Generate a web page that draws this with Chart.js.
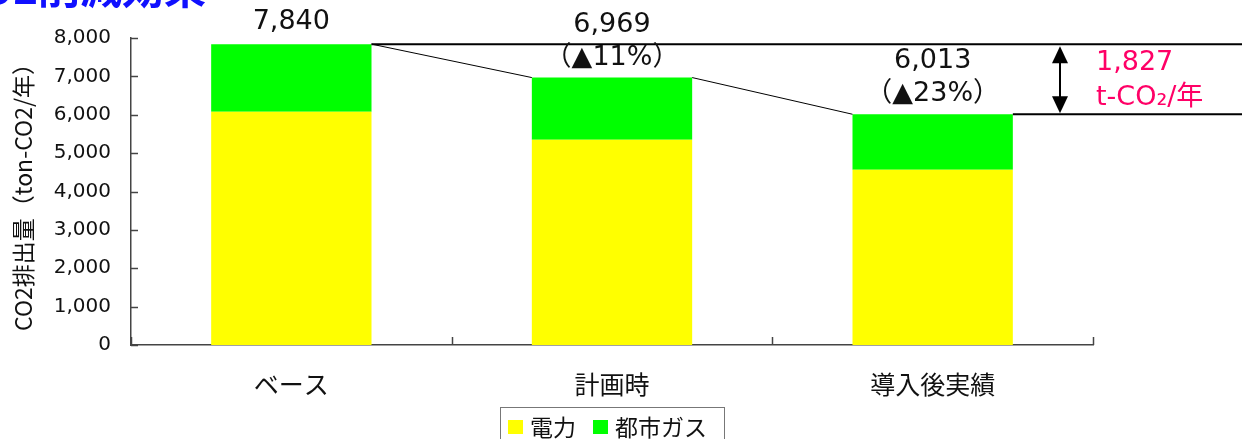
<!DOCTYPE html>
<html>
<head>
<meta charset="utf-8">
<script src="https://cdn.jsdelivr.net/npm/chart.js@4/dist/chart.umd.min.js"></script>
<style>
  html, body { margin: 0; padding: 0; background: #fff; }
  #wrap { width: 1242px; height: 439px; }
</style>
</head>
<body>
<div id="wrap"><canvas id="co2Chart"></canvas></div>
<script>
var categories = ['ベース', '計画時', '導入後実績'];
var denryoku = [6080, 5350, 4570];   // 電力
var toshiGas = [1760, 1619, 1443];   // 都市ガス
var seriesNames = ['電力', '都市ガス'];
var yTicks = [0, 1000, 2000, 3000, 4000, 5000, 6000, 7000, 8000];

var totals = denryoku.map(function (v, i) { return v + toshiGas[i]; });
var fmt = function (v) { return v.toLocaleString('en-US'); };

var numFont = '"DejaVu Sans", "Noto Sans CJK JP", sans-serif';
var jpFont = '"Noto Sans CJK JP", sans-serif';
var axisColor = '#444';

// ticks pointing into the plot, annotations, title and legend box
var extras = {
  id: 'extras',
  afterDraw: function (chart) {
    var ctx = chart.ctx;
    var x = chart.scales.x, y = chart.scales.y;
    var area = chart.chartArea;
    var top = chart.getDatasetMeta(1).data;

    ctx.save();
    // inner tick marks
    ctx.strokeStyle = axisColor;
    ctx.lineWidth = 1.5;
    yTicks.forEach(function (t) {
      var py = Math.round(y.getPixelForValue(t)) + 0.5;
      ctx.beginPath();
      ctx.moveTo(area.left, py);
      ctx.lineTo(area.left + 7, py);
      ctx.stroke();
    });
    var catW = (area.right - area.left) / categories.length;
    for (var i = 0; i <= categories.length; i++) {
      var px = Math.round(area.left + i * catW) + 0.5;
      ctx.beginPath();
      ctx.moveTo(px, area.bottom);
      ctx.lineTo(px, area.bottom - 8);
      ctx.stroke();
    }

    // connector lines between bar tops
    ctx.strokeStyle = '#000';
    ctx.lineWidth = 1;
    for (var j = 0; j < top.length - 1; j++) {
      var a = top[j], b = top[j + 1];
      ctx.beginPath();
      ctx.moveTo(a.x + a.width / 2, a.y);
      ctx.lineTo(b.x - b.width / 2, b.y);
      ctx.stroke();
    }
    // reference lines to the right edge
    var first = top[0], last = top[top.length - 1];
    ctx.lineWidth = 2;
    ctx.beginPath();
    ctx.moveTo(first.x + first.width / 2, first.y);
    ctx.lineTo(chart.width, first.y);
    ctx.moveTo(last.x + last.width / 2, last.y);
    ctx.lineTo(chart.width, last.y);
    ctx.stroke();

    // double arrow showing the reduction
    var ax = 1060, y1 = first.y + 2, y2 = last.y - 1;
    ctx.fillStyle = '#000';
    ctx.beginPath();
    ctx.moveTo(ax, y1 + 14);
    ctx.lineTo(ax, y2 - 14);
    ctx.stroke();
    ctx.beginPath();
    ctx.moveTo(ax, y1); ctx.lineTo(ax - 8, y1 + 17); ctx.lineTo(ax + 8, y1 + 17);
    ctx.closePath(); ctx.fill();
    ctx.beginPath();
    ctx.moveTo(ax, y2); ctx.lineTo(ax - 8, y2 - 17); ctx.lineTo(ax + 8, y2 - 17);
    ctx.closePath(); ctx.fill();

    var diff = totals[0] - totals[totals.length - 1];
    ctx.fillStyle = '#ff0066';
    ctx.textAlign = 'left';
    ctx.textBaseline = 'middle';
    ctx.font = '27px ' + numFont;
    ctx.fillText(fmt(diff), 1096, 63);
    ctx.fillText('t-CO₂/年', 1096, 98);

    // totals and reduction rates above bars
    ctx.fillStyle = '#111';
    ctx.textAlign = 'center';
    ctx.font = '27px ' + numFont;
    top.forEach(function (bar, k) {
      if (k === 0) {
        ctx.fillText(fmt(totals[k]), bar.x, bar.y - 22);
      } else {
        var pct = Math.round((totals[0] - totals[k]) / totals[0] * 100);
        ctx.fillText(fmt(totals[k]), bar.x, bar.y - 53);
        ctx.fillText('（▲' + pct + '%）', bar.x, bar.y - 20);
      }
    });

    // heading
    ctx.fillStyle = '#1010ff';
    ctx.textAlign = 'right';
    ctx.textBaseline = 'alphabetic';
    ctx.font = 'bold 42px ' + jpFont;
    ctx.fillText('CO2削減効果', 206, 4);

    // legend with frame
    ctx.strokeStyle = '#777';
    ctx.lineWidth = 1;
    ctx.strokeRect(500.5, 407.5, 224, 40);
    var colors = [chart.data.datasets[0].backgroundColor, chart.data.datasets[1].backgroundColor];
    var lx = [508, 593];
    ctx.font = '23px ' + jpFont;
    ctx.textAlign = 'left';
    ctx.textBaseline = 'middle';
    seriesNames.forEach(function (name, k) {
      ctx.fillStyle = colors[k];
      ctx.fillRect(lx[k], 420, 15, 14);
      ctx.fillStyle = '#111';
      ctx.fillText(name, lx[k] + 22, 427);
    });
    ctx.restore();
  }
};

new Chart(document.getElementById('co2Chart'), {
  type: 'bar',
  data: {
    labels: categories,
    datasets: [
      { label: seriesNames[0], data: denryoku, backgroundColor: '#ffff00', borderWidth: 0 },
      { label: seriesNames[1], data: toshiGas, backgroundColor: '#00ff00', borderWidth: 0 }
    ]
  },
  options: {
    responsive: true,
    maintainAspectRatio: false,
    animation: false,
    layout: { padding: { left: 0, right: 149, top: 38, bottom: 0 } },
    plugins: {
      legend: { display: false },
      tooltip: { enabled: false }
    },
    datasets: { bar: { categoryPercentage: 1, barPercentage: 0.5 } },
    scales: {
      x: {
        stacked: true,
        grid: { display: false, drawTicks: false },
        border: { display: true, color: axisColor, width: 1.5 },
        ticks: { color: '#111', padding: 24, font: { family: jpFont, size: 25 } },
        afterFit: function (s) { s.height = 94; }
      },
      y: {
        stacked: true,
        min: 0,
        max: 8000,
        grid: { display: false, drawTicks: false },
        border: { display: true, color: axisColor, width: 1.5 },
        afterBuildTicks: function (s) { s.ticks = yTicks.map(function (v) { return { value: v }; }); },
        ticks: {
          color: '#111',
          padding: 20,
          font: { family: numFont, size: 20 },
          callback: function (v) { return fmt(v); }
        },
        title: {
          display: true,
          text: 'CO2排出量（ton-CO2/年）',
          color: '#111',
          padding: { top: 9, bottom: 0 },
          font: { family: jpFont, size: 23 }
        },
        afterFit: function (s) { s.width = 131; }
      }
    }
  },
  plugins: [extras]
});
</script>
</body>
</html>
